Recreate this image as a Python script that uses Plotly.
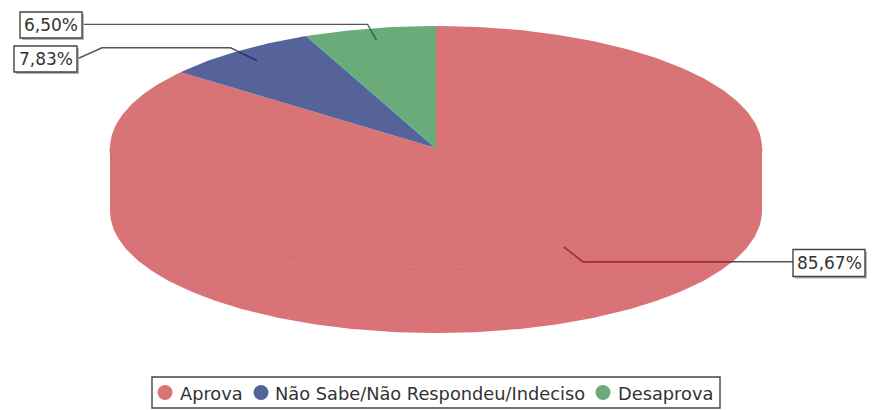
import numpy as np
import plotly.graph_objects as go

categories = ["Aprova", "Não Sabe/Não Respondeu/Indeciso", "Desaprova"]
values = [85.67, 7.83, 6.50]
value_labels = ["85,67%", "7,83%", "6,50%"]
colors = ["#D97476", "#56639A", "#6BAB7A"]
dark_colors = ["#A52A2C", "#25306E", "#1E7040"]

CX, CY, RX, RY, DEPTH = 436, 148, 326, 122, 63
SIDE = "#D97378"
SEAM = "#D26B6F"
FONT = "DejaVu Sans"

# label boxes: centre x, centre y, width, height
boxes = [(829, 263, 72, 27), (45.5, 59, 63, 26), (51, 25, 62, 26)]
# legend layout: box, then marker x and text x for each entry
legend_box = (152, 377, 720, 408)
legend_marker_x = [165, 261, 603]
legend_text_x = [180, 275, 618]


def pt(frac, f=1.0, dy=0.0):
    a = 2 * np.pi * frac / 100
    return CX + f * RX * np.sin(a), CY - f * RY * np.cos(a) + dy


fig = go.Figure()

# side wall
fr = np.linspace(25, 75, 200)
xt, yt = pt(fr)
xb, yb = pt(fr[::-1], dy=DEPTH)
fig.add_trace(go.Scatter(x=np.r_[xt, xb], y=np.r_[yt, yb], mode="lines", fill="toself",
                         fillcolor=SIDE, line=dict(width=0), showlegend=False, hoverinfo="skip"))

# top slices
start = 0.0
mids = []
for name, v, c in zip(categories, values, colors):
    fr = np.linspace(start, start + v, max(int(v * 4), 12))
    x, y = pt(fr)
    fig.add_trace(go.Scatter(x=np.r_[CX, x, CX], y=np.r_[CY, y, CY], mode="lines", fill="toself", name=name,
                             fillcolor=c, line=dict(width=0), showlegend=False, hoverinfo="skip"))
    mids.append(start + v / 2)
    start += v

# seams
fr = np.linspace(25, 75, 200)
x, y = pt(fr)
fig.add_trace(go.Scatter(x=x, y=y, mode="lines", line=dict(color=SEAM, width=1),
                         showlegend=False, hoverinfo="skip"))
x, y = pt(values[0] + values[1])
fig.add_trace(go.Scatter(x=[CX, x], y=[CY, y], mode="lines", line=dict(color="#5FB5A0", width=1.5),
                         showlegend=False, hoverinfo="skip"))

# leaders
GRAY = "#555555"
for i, (m, (bx, by, bw, bh)) in enumerate(zip(mids, boxes)):
    x0, y0 = pt(m, 0.9)
    x1, y1 = pt(m, 1.035)
    xe, ye = pt(m, 1.0)
    if x1 > CX:
        xs, ys = [x1, bx - bw / 2], [y1, y1]
    elif abs(y1 - by) > 3:
        xs, ys = [x1, 102, bx + bw / 2], [y1, y1, by]
    else:
        xs, ys = [x1, bx + bw / 2], [y1, y1]
    fig.add_trace(go.Scatter(x=[xe, x1] + xs[1:], y=[ye, y1] + ys[1:], mode="lines",
                             line=dict(color=GRAY, width=1.4), showlegend=False, hoverinfo="skip"))
    if i == 0:
        xx = CX + RX * np.sqrt(1 - ((y1 - DEPTH - CY) / RY) ** 2)
        dx, dy = [x0, x1, xx], [y0, y1, y1]
    else:
        dx, dy = [x0, xe], [y0, ye]
    fig.add_trace(go.Scatter(x=dx, y=dy, mode="lines", line=dict(color=dark_colors[i], width=1.5),
                             showlegend=False, hoverinfo="skip"))

shapes = []
annotations = []
for (bx, by, bw, bh), lab in zip(boxes, value_labels):
    shapes.append(dict(type="rect", x0=bx - bw / 2 + 2, x1=bx + bw / 2 + 2, y0=by - bh / 2 + 2, y1=by + bh / 2 + 2,
                       fillcolor="#B5B5B5", line=dict(width=0), layer="above"))
    shapes.append(dict(type="rect", x0=bx - bw / 2, x1=bx + bw / 2, y0=by - bh / 2, y1=by + bh / 2,
                       fillcolor="white", line=dict(color="#444444", width=1.4), layer="above"))
    annotations.append(dict(x=bx, y=by, text=lab, showarrow=False, xanchor="center", yanchor="middle",
                            font=dict(family=FONT, size=17, color="#333333")))

# legend
lx0, ly0, lx1, ly1 = legend_box
ly = (ly0 + ly1) / 2
shapes.append(dict(type="rect", x0=lx0, x1=lx1, y0=ly0, y1=ly1, fillcolor="white",
                   line=dict(color="#444444", width=1.4), layer="below"))
fig.add_trace(go.Scatter(x=legend_marker_x, y=[ly] * 3, mode="markers", showlegend=False, hoverinfo="skip",
                         marker=dict(color=colors, size=15, symbol="circle")))
for tx, name in zip(legend_text_x, categories):
    annotations.append(dict(x=tx, y=ly, text=name, showarrow=False, xanchor="left", yanchor="middle", xshift=-2,
                            yshift=-1, font=dict(family=FONT, size=17.8, color="#333333")))

fig.update_layout(
    width=885, height=410, margin=dict(l=0, r=0, t=0, b=0),
    paper_bgcolor="white", plot_bgcolor="white", showlegend=False,
    xaxis=dict(range=[0, 885], visible=False, fixedrange=True),
    yaxis=dict(range=[410, 0], visible=False, fixedrange=True),
    shapes=shapes, annotations=annotations,
)
fig.write_html("out.html", config={"displayModeBar": False},
               post_script="document.body.style.margin='0';window.dispatchEvent(new Event('resize'));")
